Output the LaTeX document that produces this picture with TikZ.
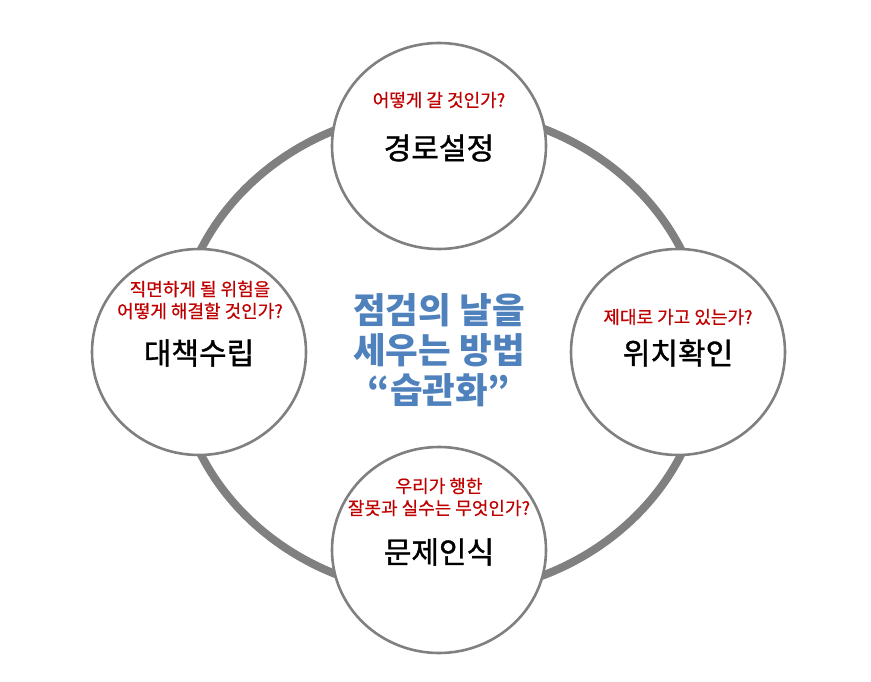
\documentclass[tikz,border=0pt]{standalone}
\usepackage{fontspec}
\setmainfont{Noto Sans CJK KR}
\newfontfamily\medfont[FakeBold=1.2]{Noto Sans CJK KR}
\newfontfamily\redfont[FakeBold=0.6]{Noto Sans CJK KR}
\usetikzlibrary{shapes.geometric}
\definecolor{ringgray}{RGB}{128,128,128}
\definecolor{qred}{RGB}{192,0,0}
\definecolor{tblue}{RGB}{79,129,189}
\tikzset{
  bub/.style={ellipse, draw=ringgray, line width=2.6pt, fill=white,
    minimum width=214pt, minimum height=206pt, inner sep=0pt},
  qtxt/.style={text=qred, align=center, inner sep=0pt,
    font=\redfont\fontsize{18}{22}\selectfont},
  ttxt/.style={text=black, inner sep=0pt, font=\medfont\fontsize{30}{34}\selectfont},
  ctxt/.style={text=tblue, align=center, inner sep=0pt,
    font=\bfseries\fontsize{35.5}{40}\selectfont}
}
\begin{document}
\begin{tikzpicture}[x=1pt,y=-1pt]
\useasboundingbox (0,0) rectangle (871,682);
\draw[ringgray, line width=8pt] (441,352) ellipse [x radius=265pt, y radius=242pt];
\node[bub] (top) at (439,146) {};
\node[bub] (left) at (199,352) {};
\node[bub] (right) at (678,352) {};
\node[bub] (bottom) at (439,550) {};
\node[qtxt] (q1) at (439,100) {어떻게 갈 것인가?};
\node[ttxt] (t1) at (439,148) {경로설정};
\node[qtxt] (q2) at (200,300) {직면하게 될 위험을\\어떻게 해결할 것인가?};
\node[ttxt] (t2) at (199,353) {대책수립};
\node[qtxt] (q3) at (678,317) {제대로 가고 있는가?};
\node[ttxt] (t3) at (678,353) {위치확인};
\node[qtxt] (q4) at (439,497) {우리가 행한\\잘못과 실수는 무엇인가?};
\node[ttxt] (t4) at (439,552) {문제인식};
\node[ctxt] (c) at (439,350) {점검의 날을\\세우는 방법\\“습관화”};
\end{tikzpicture}
\end{document}
